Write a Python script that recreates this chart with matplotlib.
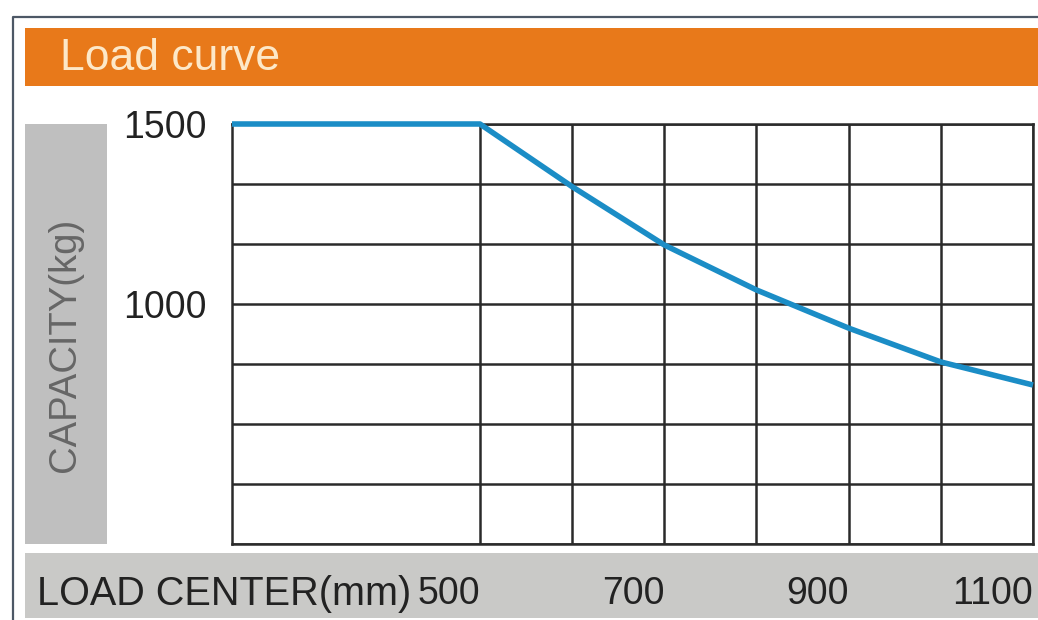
import matplotlib
matplotlib.use("Agg")
import matplotlib.pyplot as plt
from matplotlib.patches import Rectangle
from matplotlib.lines import Line2D

# data
load_center = [231, 500, 600, 700, 800, 900, 1000, 1100]
capacity = [1500, 1500, 1326, 1164, 1039, 933, 839, 775]

x_labels = [500, 700, 900, 1100]
x_grid = [600, 800, 1000]
y_labels = [1000, 1500]
y_grid = [1500 - k * 500 / 3 for k in range(1, 8)]

W, H = 1038, 620
plt.rcParams['font.family'] = ['Liberation Sans', 'DejaVu Sans']

fig = plt.figure(figsize=(W / 100, H / 100), dpi=100)
fig.patch.set_facecolor('white')

# pixel -> figure coords
def fx(x):
    return x / W

def fy(y):
    return 1 - y / H

def box(x0, y0, x1, y1, color):
    fig.patches.append(Rectangle((fx(x0), fy(y1)), fx(x1) - fx(x0), fy(y0) - fy(y1),
                                 transform=fig.transFigure, facecolor=color,
                                 edgecolor='none', zorder=-2))

# outer frame
fig.lines.append(Line2D([fx(13), fx(13), fx(W)], [fy(H), fy(17), fy(17)],
                        transform=fig.transFigure, color='#4d5866', lw=1.6,
                        zorder=-2))

# title bar
box(25, 28, W, 86, '#e8791a')
fig.text(fx(60), fy(58), 'Load curve', color='#fde8c8', fontsize=32,
         va='center', ha='left')

# side + bottom bars
box(25, 124, 107, 544, '#bfbfbf')
box(25, 553, W, 618, '#c9c9c7')
fig.text(fx(65), fy(345), 'CAPACITY(kg)', color='#666666', fontsize=27.5,
         rotation=90, va='center', ha='center')
fig.text(fx(37), fy(594), 'LOAD CENTER(mm)', color='#222222', fontsize=28.5,
         va='center', ha='left')

ax = fig.add_axes([fx(232), fy(544), fx(1033) - fx(232), fy(124) - fy(544)])
ax.set_facecolor('white')
ax.plot(load_center, capacity, color='#1b8dc6', lw=4, clip_on=False,
        solid_capstyle='butt', zorder=5)

ax.set_xlim(231, 1100)
ax.set_ylim(1500 - 7 * 500 / 3, 1500)

ax.set_xticks(x_labels)
ax.set_xticks(x_grid + [1100], minor=True)
ax.set_yticks(y_labels)
ax.set_yticks(y_grid, minor=True)
ax.set_xticklabels([str(v) for v in x_labels], ha='right')
ax.set_yticklabels([str(v) for v in y_labels])
ax.grid(True, which='both', color='#2a2a2a', lw=1.8)
ax.tick_params(which='both', length=0)
ax.tick_params(axis='x', pad=23, labelsize=27, labelcolor='#222222')
ax.tick_params(axis='y', pad=18, labelsize=27, labelcolor='#222222')
for s in ax.spines.values():
    s.set_color('#2a2a2a')
    s.set_linewidth(1.8)

fig.savefig('out.png', dpi=100)
